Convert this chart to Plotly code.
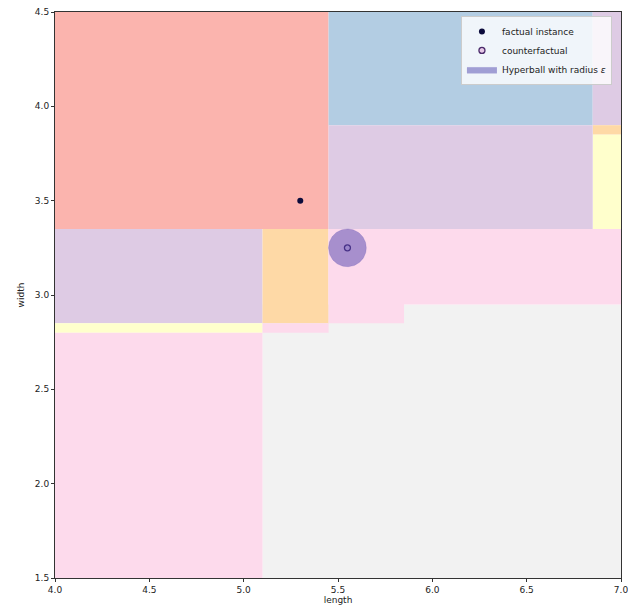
import numpy as np
import plotly.graph_objects as go

# Decision regions (rectangles in data units); earlier ones are drawn underneath
rect_x0 = [5.10, 4.00, 5.45, 6.85, 6.85, 6.85, 5.45, 4.00, 4.00, 4.00, 5.10, 5.10, 5.45, 5.45]
rect_x1 = [7.00, 5.45, 6.85, 7.00, 7.00, 7.00, 6.85, 5.10, 5.10, 5.10, 5.45, 5.45, 7.00, 5.85]
rect_y0 = [1.50, 3.35, 3.90, 3.90, 3.85, 3.35, 3.35, 2.85, 2.80, 1.50, 2.85, 2.80, 2.95, 2.85]
rect_y1 = [2.95, 4.50, 4.50, 4.50, 3.90, 3.85, 3.90, 3.35, 2.85, 2.80, 3.35, 2.85, 3.35, 3.35]
rect_cls = ["gray", "red", "blue", "purple", "orange", "yellow", "purple", "purple", "yellow", "pink",
            "orange", "pink", "pink", "pink"]

palette = {"red": "#fbb4ae", "blue": "#b3cde3", "purple": "#decbe4", "orange": "#fed9a6",
           "yellow": "#ffffcc", "pink": "#fddaec", "gray": "#f2f2f2"}

factual_x = [5.30]
factual_y = [3.50]
cf_x = [5.55]
cf_y = [3.25]
epsilon = 0.10

x_ticks = [4.0, 4.5, 5.0, 5.5, 6.0, 6.5, 7.0]
y_ticks = [1.5, 2.0, 2.5, 3.0, 3.5, 4.0, 4.5]

fig = go.Figure()

shapes = []
for x0, x1, y0, y1, c in zip(rect_x0, rect_x1, rect_y0, rect_y1, rect_cls):
    shapes.append(dict(type="rect", xref="x", yref="y", x0=x0, x1=x1, y0=y0, y1=y1,
                       fillcolor=palette[c], line=dict(width=0), layer="below"))

fig.add_trace(go.Scatter(x=factual_x, y=factual_y, mode="markers", name="factual instance",
                         marker=dict(color="#0b0b3b", size=6, line=dict(width=0))))
fig.add_trace(go.Scatter(x=cf_x, y=cf_y, mode="markers", name="counterfactual",
                         marker=dict(color="rgba(230,200,230,1)", size=6,
                                     line=dict(color="#4a2a6a", width=1.3))))

t = np.linspace(0, 2 * np.pi, 120)
fig.add_trace(go.Scatter(x=cf_x[0] + epsilon * np.cos(t), y=cf_y[0] + epsilon * np.sin(t),
                         mode="lines", fill="toself", name="Hyperball with radius <i>ε</i>",
                         fillcolor="rgba(70,60,170,0.47)",
                         line=dict(color="rgba(70,60,170,0.35)", width=0.5)))

fig.update_layout(
    width=628, height=608,
    margin=dict(l=55, r=7, t=12, b=30, autoexpand=False),
    paper_bgcolor="white", plot_bgcolor="white",
    font=dict(family="DejaVu Sans", size=9, color="#222"),
    shapes=shapes,
    showlegend=True,
    legend=dict(x=0.984, y=0.993, xanchor="right", yanchor="top",
                bgcolor="rgba(255,255,255,0.8)", bordercolor="#cccccc", borderwidth=1,
                font=dict(size=9, color="#222"), tracegroupgap=0),
    xaxis=dict(range=[4.0, 7.0], tickvals=x_ticks, ticktext=[f"{v:.1f}" for v in x_ticks],
               showgrid=False, zeroline=False, showline=True, mirror=True, linecolor="#333",
               linewidth=1, ticks="outside", ticklen=3, tickcolor="#333", automargin=False,
               ticklabeloverflow="allow",
               title=dict(text="length", standoff=0, font=dict(size=9))),
    yaxis=dict(range=[1.5, 4.5], tickvals=y_ticks, ticktext=[f"{v:.1f}" for v in y_ticks],
               showgrid=False, zeroline=False, showline=True, mirror=True, linecolor="#333",
               linewidth=1, ticks="outside", ticklen=3, tickcolor="#333", automargin=False,
               ticklabeloverflow="allow",
               title=dict(text="width", standoff=8, font=dict(size=9))),
)

fig.write_html("out.html", config={"displayModeBar": False},
               post_script="document.body.style.margin='0';document.body.style.overflow='hidden';")
